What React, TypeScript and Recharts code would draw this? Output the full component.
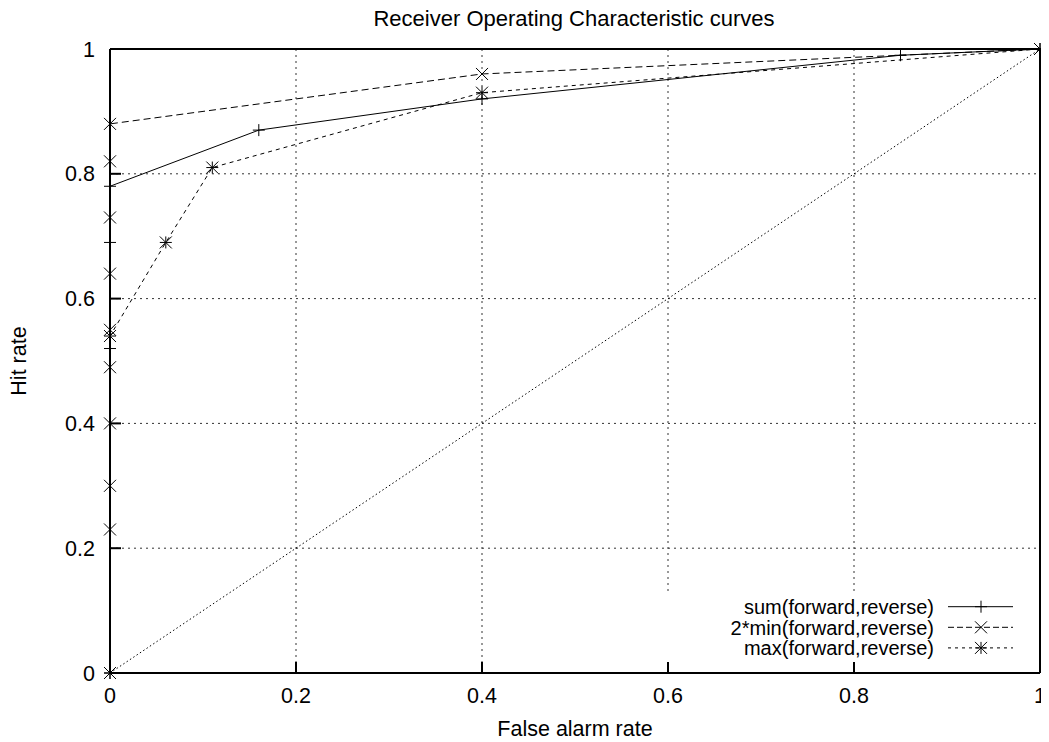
import React from 'react';
import { LineChart, Line, XAxis, YAxis, CartesianGrid } from 'recharts';

const xTicks = [0, 0.2, 0.4, 0.6, 0.8, 1];
const yTicks = [0, 0.2, 0.4, 0.6, 0.8, 1];

const titleText = 'Receiver Operating Characteristic curves';
const xLabel = 'False alarm rate';
const yLabel = 'Hit rate';

const seriesNames = ['sum(forward,reverse)', '2*min(forward,reverse)', 'max(forward,reverse)'];

const sumSeries = [
  { x: 0, y: 0 },
  { x: 0, y: 0.52 },
  { x: 0, y: 0.69 },
  { x: 0, y: 0.78 },
  { x: 0.16, y: 0.87 },
  { x: 0.4, y: 0.92 },
  { x: 0.85, y: 0.99 },
  { x: 1, y: 1 },
];

const minSeries = [
  { x: 0, y: 0 },
  { x: 0, y: 0.23 },
  { x: 0, y: 0.3 },
  { x: 0, y: 0.4 },
  { x: 0, y: 0.49 },
  { x: 0, y: 0.55 },
  { x: 0, y: 0.64 },
  { x: 0, y: 0.73 },
  { x: 0, y: 0.82 },
  { x: 0, y: 0.88 },
  { x: 0.4, y: 0.96 },
  { x: 1, y: 1 },
];

const maxSeries = [
  { x: 0, y: 0 },
  { x: 0, y: 0.54 },
  { x: 0.06, y: 0.69 },
  { x: 0.11, y: 0.81 },
  { x: 0.4, y: 0.93 },
  { x: 1, y: 1 },
];

const chanceLine = [
  { x: 0, y: 0 },
  { x: 1, y: 1 },
];

const FONT = '"Liberation Sans", Arial, Helvetica, sans-serif';
const R = 6;

const plusPath = (cx: number, cy: number) => `M${cx - R},${cy}H${cx + R}M${cx},${cy - R}V${cy + R}`;
const crossPath = (cx: number, cy: number) =>
  `M${cx - R},${cy - R}L${cx + R},${cy + R}M${cx - R},${cy + R}L${cx + R},${cy - R}`;
const starPath = (cx: number, cy: number) => plusPath(cx, cy) + crossPath(cx, cy);

const makeDot = (fn: (cx: number, cy: number) => string, tag: string) => (p: any) => {
  const { cx, cy, index } = p;
  if (cx == null || cy == null) return <g key={`${tag}-${index}`} />;
  return (
    <path
      key={`${tag}-${index}`}
      d={fn(cx, cy)}
      stroke="#000"
      strokeWidth={1}
      fill="none"
      strokeDasharray="none"
    />
  );
};

const fmt = (v: number) => String(v);

const XTick = (p: any) => (
  <text x={p.x} y={p.y + 15.3} textAnchor="middle" fontSize={21.5} fill="#000" fontFamily={FONT}>
    {fmt(p.payload.value)}
  </text>
);

const YTick = (p: any) => (
  <text x={p.x} y={p.y + 7.6} textAnchor="end" fontSize={21.5} fill="#000" fontFamily={FONT}>
    {fmt(p.payload.value)}
  </text>
);

export default function App() {
  const W = 1041;
  const H = 734;
  return (
    <div style={{ position: 'relative', width: W, height: H }}>
      <LineChart width={W} height={H} margin={{ top: 0, right: 0, bottom: 0, left: 0 }}>
        <CartesianGrid stroke="#333" strokeDasharray="2 4" strokeWidth={1} />
        <Line
          data={sumSeries}
          dataKey="y"
          type="linear"
          stroke="#000"
          strokeWidth={1}
          dot={makeDot(plusPath, 's')}
          isAnimationActive={false}
        />
        <Line
          data={minSeries}
          dataKey="y"
          type="linear"
          stroke="#000"
          strokeWidth={1}
          strokeDasharray="7 4"
          dot={makeDot(crossPath, 'm')}
          isAnimationActive={false}
        />
        <Line
          data={maxSeries}
          dataKey="y"
          type="linear"
          stroke="#000"
          strokeWidth={1}
          strokeDasharray="4 4"
          dot={makeDot(starPath, 'x')}
          isAnimationActive={false}
        />
        <Line
          data={chanceLine}
          dataKey="y"
          type="linear"
          stroke="#000"
          strokeWidth={1}
          strokeDasharray="1.5 2.5"
          dot={false}
          isAnimationActive={false}
        />
        <XAxis
          dataKey="x"
          type="number"
          domain={[0, 1]}
          ticks={xTicks}
          height={69}
          tickSize={-11}
          tickMargin={26}
          axisLine={{ stroke: '#000', strokeWidth: 2 }}
          tickLine={{ stroke: '#000', strokeWidth: 2 }}
          tick={<XTick />}
          interval={0}
        />
        <XAxis
          xAxisId="top"
          orientation="top"
          dataKey="x"
          type="number"
          domain={[0, 1]}
          ticks={xTicks}
          tickFormatter={() => ''}
          height={41}
          tickSize={-11}
          axisLine={{ stroke: '#000', strokeWidth: 2 }}
          tickLine={{ stroke: '#000', strokeWidth: 2 }}
          interval={0}
        />
        <YAxis
          type="number"
          domain={[0, 1]}
          ticks={yTicks}
          width={102}
          tickSize={-11}
          tickMargin={26}
          axisLine={{ stroke: '#000', strokeWidth: 2 }}
          tickLine={{ stroke: '#000', strokeWidth: 2 }}
          tick={<YTick />}
          interval={0}
        />
        <YAxis
          yAxisId="right"
          orientation="right"
          type="number"
          domain={[0, 1]}
          ticks={yTicks}
          tickFormatter={() => ''}
          width={9}
          tickSize={-11}
          axisLine={{ stroke: '#000', strokeWidth: 2 }}
          tickLine={{ stroke: '#000', strokeWidth: 2 }}
          interval={0}
        />
      </LineChart>
      <svg
        width={1049}
        height={742}
        style={{ position: 'absolute', left: -8, top: -8, pointerEvents: 'none' }}
        fontFamily={FONT}
      >
        <text x={574} y={26} textAnchor="middle" fontSize={22} fill="#000">
          {titleText}
        </text>
        <text x={575} y={736} textAnchor="middle" fontSize={21.5} fill="#000">
          {xLabel}
        </text>
        <text
          x={26}
          y={361}
          textAnchor="middle"
          fontSize={21.5}
          fill="#000"
          transform="rotate(-90, 26, 361)"
        >
          {yLabel}
        </text>
        <g transform="translate(650, 594)">
          <rect x={0} y={0} width={380} height={68} fill="#fff" />
          {seriesNames.map((name, i) => {
            const cy = 12.7 + i * 20.6;
            const dash = i === 0 ? undefined : i === 1 ? '6 3' : '3 4';
            const fn = i === 0 ? plusPath : i === 1 ? crossPath : starPath;
            return (
              <g key={name}>
                <text x={284} y={cy + 7.2} textAnchor="end" fontSize={20} fill="#000">
                  {name}
                </text>
                <line x1={298} x2={363} y1={cy} y2={cy} stroke="#000" strokeWidth={1} strokeDasharray={dash} />
                <path d={fn(331, cy)} stroke="#000" strokeWidth={1} fill="none" />
              </g>
            );
          })}
        </g>
      </svg>
    </div>
  );
}
